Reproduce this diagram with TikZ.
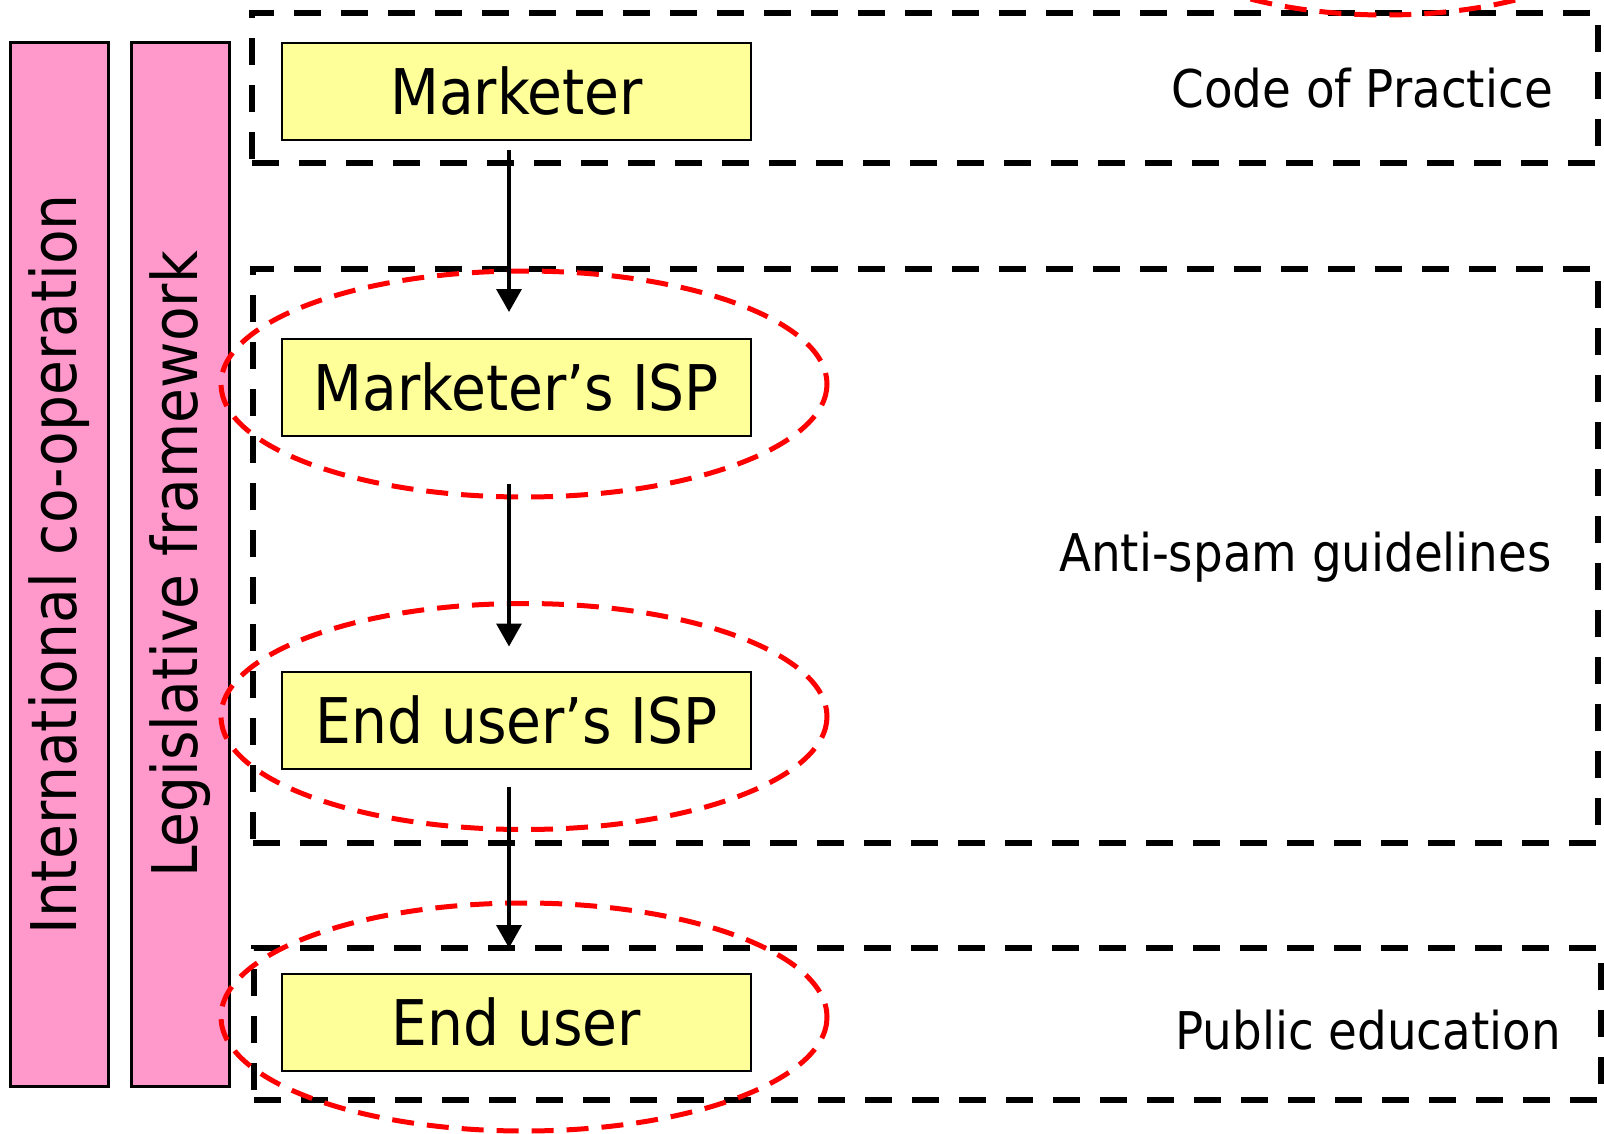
\documentclass[tikz,border=0pt]{standalone}
\usepackage{fontspec}
\setmainfont{DejaVu Sans Condensed}
\usetikzlibrary{arrows.meta}
\definecolor{boxyellow}{HTML}{FFFF99}
\definecolor{barpink}{HTML}{FF99CC}

\begin{document}
\begin{tikzpicture}[
    x=1pt, y=-1pt,
    actor/.style = {draw, line width=2pt, fill=boxyellow, minimum width=469pt, minimum height=97pt, inner sep=0pt, font=\fontsize{63}{72}\selectfont},
    pillar/.style = {draw, line width=3pt, fill=barpink, rotate=90, minimum width=1043pt, minimum height=98pt, inner sep=0pt, font=\fontsize{63}{72}\selectfont},
    zone/.style = {draw, line width=6pt, dash pattern=on 27pt off 20pt, inner sep=0pt},
    zonetext/.style = {anchor=east, inner sep=0pt, font=\fontsize{52}{60}\selectfont},
    focus/.style = {draw=red, line width=5pt, dash pattern=on 22pt off 13pt},
    flow/.style = {line width=3.5pt, -{Triangle[width=25pt,length=23pt]}}
]
    \useasboundingbox (0,0) rectangle (1604,1134);

    % --- Zones (dashed frames) ---
    \node[zone, minimum width=1346pt, minimum height=150pt] (cop) at (925,88) {};
    \node[zone, minimum width=1345pt, minimum height=574pt] (asg) at (925.5,556) {};
    \node[zone, minimum width=1347pt, minimum height=152pt] (pe) at (927.5,1024) {};

    \node[zonetext] (copt) at (1553,88) {Code of Practice};
    \node[zonetext] (asgt) at (1552,557) {Anti-spam guidelines};
    \node[zonetext] (pet) at (1561,1030) {Public education};

    % --- Pillars on the left ---
    \node[pillar] (intl) at (59,564.5) {International co-operation};
    \node[pillar] (legis) at (180,564.5) {Legislative framework};

    % --- Chain of actors ---
    \node[actor] (mk) at (516.5,91.5) {Marketer};
    \node[actor] (mkisp) at (516.5,387.5) {Marketer’s ISP};
    \node[actor] (euisp) at (516.5,720) {End user’s ISP};
    \node[actor] (eu) at (516.5,1022.5) {End user};

    % --- Red rings ---
    \draw[focus] (1385,-98) ellipse [x radius=262, y radius=113];
    \draw[focus] (524,384) ellipse [x radius=303, y radius=113];
    \draw[focus] (524,716.5) ellipse [x radius=303, y radius=113];
    \draw[focus] (524,1017) ellipse [x radius=303, y radius=114];

    \draw[flow, shorten <=9pt, shorten >=26pt] (mk.south -| 509,0) -- (mkisp.north -| 509,0);
    \draw[flow, shorten <=47pt, shorten >=24pt] (mkisp.south -| 509,0) -- (euisp.north -| 509,0);
    \draw[flow, shorten <=17pt, shorten >=25pt] (euisp.south -| 509,0) -- (eu.north -| 509,0);
\end{tikzpicture}
\end{document}
